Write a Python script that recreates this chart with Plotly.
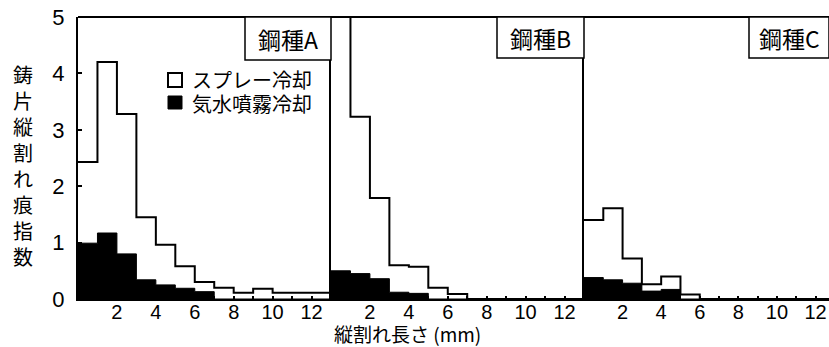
import plotly.graph_objects as go

# ---------------- data ----------------
bin_edges = list(range(14))  # 0..13 mm, 1 mm bins
panels = ["鋼種A", "鋼種B", "鋼種C"]
legend_labels = ["スプレー冷却", "気水噴霧冷却"]

spray_A = [2.43, 4.20, 3.28, 1.45, 0.96, 0.58, 0.30, 0.20, 0.11, 0.18, 0.11, 0.11, 0.11]
mist_A = [0.99, 1.17, 0.80, 0.34, 0.25, 0.19, 0.13, 0.0, 0.0, 0.0, 0.0, 0.0, 0.0]

spray_B = [6.00, 3.23, 1.79, 0.60, 0.57, 0.20, 0.09, 0.0, 0.0, 0.0, 0.0, 0.0, 0.0]
mist_B = [0.50, 0.45, 0.36, 0.12, 0.10, 0.0, 0.0, 0.0, 0.0, 0.0, 0.0, 0.0, 0.0]

spray_C = [1.40, 1.61, 0.72, 0.26, 0.40, 0.08, 0.0, 0.0, 0.0, 0.0, 0.0, 0.0, 0.0]
mist_C = [0.38, 0.34, 0.28, 0.14, 0.17, 0.0, 0.0, 0.0, 0.0, 0.0, 0.0, 0.0, 0.0]

x_ticks = [2, 4, 6, 8, 10, 12]
y_ticks = [0, 1, 2, 3, 4, 5]
x_title = "縦割れ長さ (mm)"
y_title = "鋳片縦割れ痕指数"

# ---------------- layout geometry ----------------
W, H = 829, 347
def px(x):
    return x / W
def py(y):
    return 1 - y / H

plot_top, plot_bot = 17, 299
dom_y = [py(plot_bot), py(plot_top)]
panel_px = [(78, 331), (331, 584), (584, 829)]
x_ranges = [[0, 13], [0, 13], [0, 12.7]]

CJK = "Noto Sans CJK JP"
NUM = "Liberation Sans"

fig = go.Figure()

series = [(spray_A, mist_A), (spray_B, mist_B), (spray_C, mist_C)]
for i, (sp, mi) in enumerate(series):
    xa = "x" if i == 0 else f"x{i+1}"
    ya = "y" if i == 0 else f"y{i+1}"
    fig.add_trace(go.Scatter(
        x=bin_edges, y=mi + [mi[-1]], mode="lines", line_shape="hv",
        line=dict(color="black", width=1), fill="tozeroy", fillcolor="black",
        xaxis=xa, yaxis=ya, showlegend=False, hoverinfo="skip"))
    fig.add_trace(go.Scatter(
        x=bin_edges, y=sp + [sp[-1]], mode="lines", line_shape="hv",
        line=dict(color="black", width=2),
        xaxis=xa, yaxis=ya, showlegend=False, hoverinfo="skip"))

layout = dict(
    width=W, height=H,
    margin=dict(l=0, r=0, t=0, b=0),
    paper_bgcolor="white", plot_bgcolor="white",
    showlegend=False,
)

for i in range(3):
    sfx = "" if i == 0 else str(i + 1)
    x0, x1 = panel_px[i]
    layout["xaxis" + sfx] = dict(
        domain=[px(x0), px(x1)], range=x_ranges[i], anchor="y" + sfx,
        showline=True, linecolor="black", linewidth=2,
        showgrid=False, zeroline=False,
        tickmode="array", tickvals=x_ticks, ticktext=[str(t) for t in x_ticks],
        ticks="inside", ticklen=3, tickwidth=1.5, tickcolor="black",
        minor=dict(dtick=1, ticks="inside", ticklen=3, tickwidth=1.5, tickcolor="black"),
        tickfont=dict(family=NUM, size=20, color="black"),
        ticklabelstandoff=-6,
        automargin=False, fixedrange=True,
    )
    layout["yaxis" + sfx] = dict(
        domain=dom_y, range=[0, 5], anchor="x" + sfx,
        showline=True, linecolor="black", linewidth=2,
        showgrid=False, zeroline=False,
        tickmode="array", tickvals=y_ticks,
        ticks="inside" if i == 0 else "", ticklen=4, tickwidth=1.5, tickcolor="black",
        showticklabels=(i == 0),
        tickfont=dict(family=NUM, size=22, color="black"),
        ticklabelstandoff=7,
        automargin=False, fixedrange=True,
    )

fig.update_layout(**layout)

shapes = []
annotations = []
# top border across panels
shapes.append(dict(type="line", xref="paper", yref="paper",
                   x0=px(78), x1=1, y0=py(plot_top), y1=py(plot_top),
                   line=dict(color="black", width=2)))

# panel label boxes
box_left_px = [245, 497, 749]
box_bot_px = [60, 58, 58]
for i in range(3):
    x0 = px(box_left_px[i])
    x1 = px(panel_px[i][1]) if i < 2 else 1.0
    shapes.append(dict(type="rect", xref="paper", yref="paper",
                       x0=x0, x1=x1, y0=py(box_bot_px[i]), y1=py(plot_top),
                       line=dict(color="black", width=1.5), fillcolor="white", layer="above"))
    cx = (box_left_px[i] + (panel_px[i][1] if i < 2 else 829)) / 2
    annotations.append(dict(xref="paper", yref="paper", x=px(cx), y=py((plot_top + box_bot_px[i]) / 2),
                            text=panels[i], showarrow=False, xanchor="center", yanchor="middle",
                            font=dict(family=CJK, size=23, color="black")))

# legend (inside panel A)
shapes.append(dict(type="rect", xref="paper", yref="paper",
                   x0=px(168), x1=px(182), y0=py(87), y1=py(73),
                   line=dict(color="black", width=2), fillcolor="white", layer="above"))
shapes.append(dict(type="rect", xref="paper", yref="paper",
                   x0=px(168), x1=px(182), y0=py(109), y1=py(96),
                   line=dict(color="black", width=1), fillcolor="black", layer="above"))
annotations.append(dict(xref="paper", yref="paper", x=px(191), y=py(79), text=legend_labels[0],
                        showarrow=False, xanchor="left", yanchor="middle", borderpad=0,
                        font=dict(family=CJK, size=20, color="black")))
annotations.append(dict(xref="paper", yref="paper", x=px(191), y=py(104), text=legend_labels[1],
                        showarrow=False, xanchor="left", yanchor="middle", borderpad=0,
                        font=dict(family=CJK, size=20, color="black")))

# axis titles
annotations.append(dict(xref="paper", yref="paper", x=px(407), y=py(333), text=x_title,
                        showarrow=False, xanchor="center", yanchor="middle", borderpad=0,
                        font=dict(family=CJK, size=19, color="black")))
annotations.append(dict(xref="paper", yref="paper", x=px(23), y=py(165),
                        text="<br>".join(list(y_title)),
                        showarrow=False, xanchor="center", yanchor="middle",
                        font=dict(family=CJK, size=20, color="black")))

fig.update_layout(shapes=shapes, annotations=annotations)

fig.write_html("out.html", config={"displayModeBar": False},
               post_script="document.body.style.margin='0';document.body.style.overflow='hidden';")
